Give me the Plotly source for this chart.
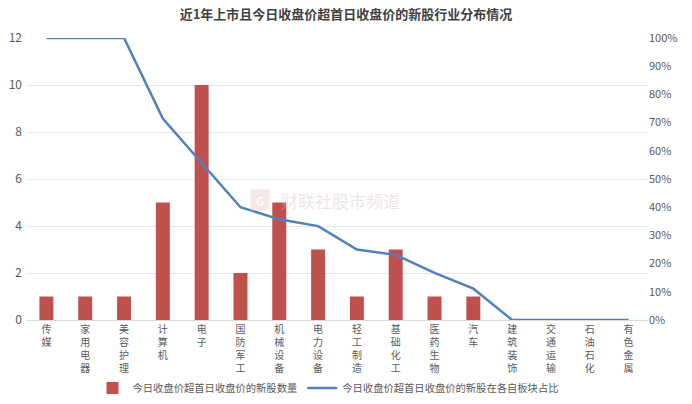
import plotly.graph_objects as go

categories = ["传媒", "家用电器", "美容护理", "计算机", "电子", "国防军工", "机械设备", "电力设备",
              "轻工制造", "基础化工", "医药生物", "汽车", "建筑装饰", "交通运输", "石油石化", "有色金属"]
counts = [1, 1, 1, 5, 10, 2, 5, 3, 1, 3, 1, 1, 0, 0, 0, 0]
ratios = [1.0, 1.0, 1.0, 0.714, 0.556, 0.40, 0.357, 0.333, 0.25, 0.231, 0.167, 0.111, 0, 0, 0, 0]
left_ticks = [0, 2, 4, 6, 8, 10, 12]
right_ticks = [0, 0.1, 0.2, 0.3, 0.4, 0.5, 0.6, 0.7, 0.8, 0.9, 1.0]

tick_text = ["<br>".join(list(c)) for c in categories]
font_family = "Noto Sans CJK SC"
gray = "#595959"

fig = go.Figure()
fig.add_trace(go.Bar(
    x=categories, y=counts, name="今日收盘价超首日收盘价的新股数量",
    marker=dict(color="#C0504D", line=dict(width=0)), width=0.36, yaxis="y"))
fig.add_trace(go.Scatter(
    x=categories, y=ratios, name="今日收盘价超首日收盘价的新股在各自板块占比",
    mode="lines", line=dict(color="#4F81BD", width=2.5), yaxis="y2"))

fig.add_annotation(text="财联社股市频道", xref="paper", yref="paper", x=0.505, y=0.425,
                   showarrow=False, font=dict(size=17, color="rgba(215,195,195,0.45)", family=font_family))
fig.add_annotation(text="<b>G</b>", xref="paper", yref="paper", x=0.375, y=0.425,
                   showarrow=False, font=dict(size=12, color="rgba(255,255,255,0.9)", family=font_family),
                   bgcolor="rgba(235,200,200,0.45)", borderpad=2, width=14, height=16)

fig.update_layout(
    width=692, height=404,
    margin=dict(l=27, r=44, t=38, b=84),
    paper_bgcolor="white", plot_bgcolor="white",
    font=dict(family=font_family, size=12, color=gray),
    title=dict(text="<b>近1年上市且今日收盘价超首日收盘价的新股行业分布情况</b>", x=0.5, xanchor="center",
               y=0.965, yanchor="middle", font=dict(size=13, color="#404040")),
    xaxis=dict(tickmode="array", tickvals=categories, ticktext=tick_text, tickangle=0,
               showline=True, linecolor="#D9D9D9", linewidth=1, ticks="", showgrid=False,
               tickfont=dict(size=10, color=gray), range=[-0.5, 15.5], automargin=False),
    yaxis=dict(range=[0, 12], tickvals=left_ticks, showgrid=True, gridcolor="#E6E6E6",
               zeroline=False, tickfont=dict(size=12, color=gray), ticks="", ticklabelstandoff=4,
               automargin=False),
    yaxis2=dict(range=[0, 1.0], tickvals=right_ticks, tickformat=".0%", overlaying="y", side="right",
                showgrid=False, zeroline=False, tickfont=dict(size=11, color=gray), ticks="",
                automargin=False),
    legend=dict(orientation="h", x=0.474, xanchor="center", xref="container",
                y=16 / 404, yanchor="middle", yref="container",
                font=dict(size=10.3, color=gray), bgcolor="rgba(0,0,0,0)", itemwidth=30, tracegroupgap=0),
    bargap=0.6,
    showlegend=True,
)

fig.write_html("out.html", config={"displayModeBar": False},
               post_script="document.body.style.margin='0';document.body.style.padding='0';")
